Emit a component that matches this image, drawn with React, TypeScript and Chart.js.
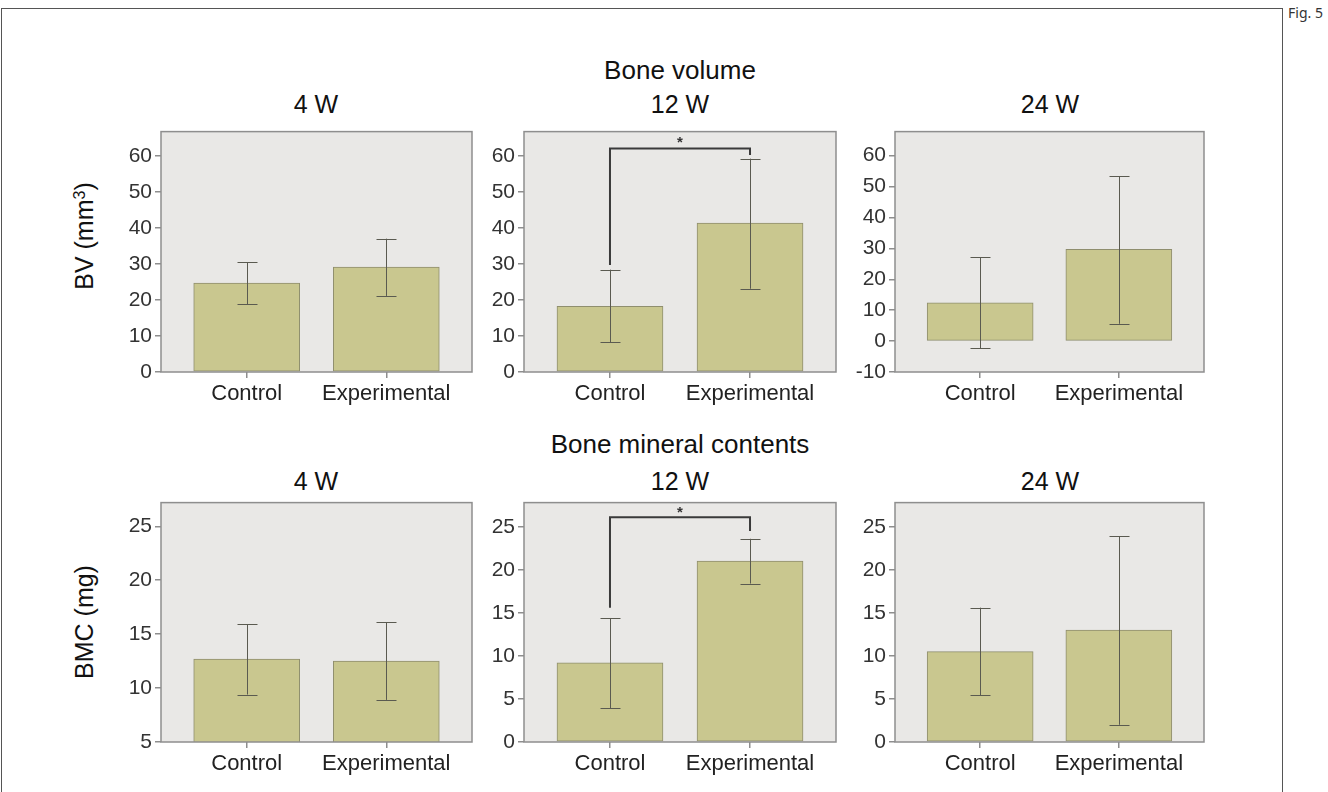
import React, { useEffect, useRef } from "react";
import { Chart, registerables } from "chart.js";

Chart.register(...registerables);

// ---------------- data ----------------
const categories = ["Control", "Experimental"];

const bv4WMean = [24.7, 29.1];
const bv4WLow = [18.8, 21.1];
const bv4WHigh = [30.4, 37.0];

const bv12WMean = [18.2, 41.3];
const bv12WLow = [8.3, 23.1];
const bv12WHigh = [28.4, 59.2];

const bv24WMean = [12.4, 29.7];
const bv24WLow = [-2.3, 5.6];
const bv24WHigh = [27.2, 53.4];

const bmc4WMean = [12.7, 12.5];
const bmc4WLow = [9.4, 8.9];
const bmc4WHigh = [15.9, 16.1];

const bmc12WMean = [9.2, 21.0];
const bmc12WLow = [3.9, 18.4];
const bmc12WHigh = [14.4, 23.6];

const bmc24WMean = [10.5, 13.0];
const bmc24WLow = [5.4, 2.0];
const bmc24WHigh = [15.6, 23.9];

const bvTicks = [0, 10, 20, 30, 40, 50, 60];
const bvTicks24W = [-10, 0, 10, 20, 30, 40, 50, 60];
const bmcTicks4W = [5, 10, 15, 20, 25];
const bmcTicks = [0, 5, 10, 15, 20, 25];

// significance bracket: [bar height, left end, right end, star level]
const bvBracket12W = [62.0, 29.7, 60.2, 64.3];
const bmcBracket12W = [26.1, 15.6, 24.5, 26.9];

const FONT = "'Liberation Sans', Arial, Helvetica, sans-serif";

// -------------- layout ----------------
const YW = 60;
const PT = 12;
const PR = 12;
const XH = 50;

type PanelProps = {
  left: number;
  top: number;
  w: number;
  h: number;
  mean: number[];
  low: number[];
  high: number[];
  ticks: number[];
  min: number;
  max: number;
  bracket?: number[];
};

function Panel(p: PanelProps) {
  const ref = useRef<HTMLCanvasElement | null>(null);
  useEffect(() => {
    if (!ref.current) return;
    const panelPlugin = {
      id: "panelDeco",
      beforeDraw(chart: any) {
        const { ctx, chartArea: a } = chart;
        ctx.save();
        ctx.fillStyle = "#e9e8e6";
        ctx.fillRect(a.left, a.top, a.right - a.left, a.bottom - a.top);
        ctx.restore();
      },
      afterDatasetsDraw(chart: any) {
        const { ctx, chartArea: a } = chart;
        const xs = chart.scales.x;
        const ys = chart.scales.y;
        ctx.save();
        // error bars
        ctx.strokeStyle = "#5a5a50";
        ctx.lineWidth = 1;
        categories.forEach((_, i) => {
          const x = Math.round(xs.getPixelForValue(i)) + 0.5;
          const yl = ys.getPixelForValue(p.low[i]);
          const yh = ys.getPixelForValue(p.high[i]);
          ctx.beginPath();
          ctx.moveTo(x, yl);
          ctx.lineTo(x, yh);
          ctx.moveTo(x - 10, Math.round(yh) + 0.5);
          ctx.lineTo(x + 10, Math.round(yh) + 0.5);
          ctx.moveTo(x - 10, Math.round(yl) + 0.5);
          ctx.lineTo(x + 10, Math.round(yl) + 0.5);
          ctx.stroke();
        });
        // bracket
        if (p.bracket) {
          const [top, le, re, star] = p.bracket;
          const x0 = xs.getPixelForValue(0);
          const x1 = xs.getPixelForValue(1);
          const yt = ys.getPixelForValue(top);
          ctx.strokeStyle = "#3a3a3a";
          ctx.lineWidth = 2;
          ctx.beginPath();
          ctx.moveTo(x0, ys.getPixelForValue(le));
          ctx.lineTo(x0, yt);
          ctx.lineTo(x1, yt);
          ctx.lineTo(x1, ys.getPixelForValue(re));
          ctx.stroke();
          ctx.fillStyle = "#333";
          ctx.font = `bold 15px ${FONT}`;
          ctx.textAlign = "center";
          ctx.textBaseline = "middle";
          ctx.fillText("*", (x0 + x1) / 2, ys.getPixelForValue(star) + 3);
        }
        // plot box
        ctx.strokeStyle = "#8e8e8e";
        ctx.lineWidth = 1.5;
        ctx.strokeRect(a.left, a.top, a.right - a.left, a.bottom - a.top);
        ctx.restore();
      },
    };

    const chart = new Chart(ref.current, {
      type: "bar",
      data: {
        datasets: [
          {
            data: categories.map((_, i) => ({ x: i, y: p.mean[i] })),
            backgroundColor: "#c9c78f",
            borderColor: "#8f8e6e",
            borderWidth: 1,
            borderSkipped: false,
            barThickness: 106,
          } as any,
        ],
      },
      options: {
        animation: false,
        responsive: false,
        maintainAspectRatio: false,
        devicePixelRatio: 1,
        layout: { padding: { top: PT, right: PR, left: 0, bottom: 0 } },
        plugins: {
          legend: { display: false },
          tooltip: { enabled: false },
          title: { display: false },
        },
        scales: {
          x: {
            type: "linear",
            min: -0.614,
            max: 1.614,
            offset: false,
            afterBuildTicks: (s: any) => {
              s.ticks = categories.map((_, i) => ({ value: i }));
            },
            afterFit: (s: any) => {
              s.height = XH;
            },
            ticks: {
              callback: (v: any) => categories[Math.round(Number(v))] ?? "",
              font: { family: FONT, size: 22 },
              color: "#222",
              padding: 3,
              maxRotation: 0,
              autoSkip: false,
            },
            grid: {
              display: true,
              offset: false,
              drawOnChartArea: false,
              drawTicks: true,
              tickLength: 6,
              color: "#8e8e8e",
              lineWidth: 1.5,
            },
            border: { display: false },
          } as any,
          y: {
            type: "linear",
            min: p.min,
            max: p.max,
            afterBuildTicks: (s: any) => {
              s.ticks = p.ticks.map((v) => ({ value: v }));
            },
            afterFit: (s: any) => {
              s.width = YW;
            },
            ticks: {
              callback: (v: any) => String(v),
              font: { family: FONT, size: 21 },
              color: "#333",
              padding: 3,
            },
            grid: {
              display: true,
              offset: false,
              drawOnChartArea: false,
              drawTicks: true,
              tickLength: 6,
              color: "#8e8e8e",
              lineWidth: 1.5,
            },
            border: { display: false },
          } as any,
        },
      },
      plugins: [panelPlugin],
    });
    return () => chart.destroy();
  }, []);

  const cw = p.w + YW + PR;
  const ch = p.h + PT + XH;
  return (
    <canvas
      ref={ref}
      width={cw}
      height={ch}
      style={{
        position: "absolute",
        left: p.left - YW,
        top: p.top - PT,
        width: cw,
        height: ch,
      }}
    />
  );
}

type Label = { text: string; x: number; y: number; size: number };

const titleLabels: Label[] = [
  { text: "Bone volume", x: 680, y: 70, size: 26 },
  { text: "4 W", x: 316, y: 104, size: 25 },
  { text: "12 W", x: 680, y: 104, size: 25 },
  { text: "24 W", x: 1050, y: 104, size: 25 },
  { text: "Bone mineral contents", x: 680, y: 444, size: 26 },
  { text: "4 W", x: 316, y: 481, size: 25 },
  { text: "12 W", x: 680, y: 481, size: 25 },
  { text: "24 W", x: 1050, y: 481, size: 25 },
];

function Text({ l }: { l: Label }) {
  return (
    <div
      style={{
        position: "absolute",
        left: l.x,
        top: l.y,
        transform: "translate(-50%, -50%)",
        fontFamily: FONT,
        fontSize: l.size,
        lineHeight: 1,
        color: "#111",
        whiteSpace: "nowrap",
      }}
    >
      {l.text}
    </div>
  );
}

function AxisTitle({ x, y, children }: { x: number; y: number; children: React.ReactNode }) {
  return (
    <div
      style={{
        position: "absolute",
        left: x,
        top: y,
        transform: "translate(-50%, -50%) rotate(-90deg)",
        fontFamily: FONT,
        fontSize: 25,
        lineHeight: 1,
        color: "#111",
        whiteSpace: "nowrap",
      }}
    >
      {children}
    </div>
  );
}

export default function App() {
  return (
    <div
      style={{
        position: "absolute",
        left: 0,
        top: 0,
        width: 1328,
        height: 792,
        overflow: "hidden",
        background: "#fff",
      }}
    >
      <div
        style={{
          position: "absolute",
          left: 1,
          top: 8,
          width: 1282,
          height: 900,
          border: "1.5px solid #555",
          boxSizing: "border-box",
        }}
      />
      <div
        style={{
          position: "absolute",
          left: 1288,
          top: 5,
          fontFamily: "'Noto Sans', 'Open Sans', sans-serif",
          fontSize: 14,
          lineHeight: 1.2,
          color: "#333",
        }}
      >
        Fig. 5
      </div>

      {titleLabels.map((l, i) => (
        <Text key={i} l={l} />
      ))}

      <AxisTitle x={84} y={236}>
        BV (mm<sup style={{ fontSize: 16, verticalAlign: "8px" }}>3</sup>)
      </AxisTitle>
      <AxisTitle x={84} y={622}>
        BMC (mg)
      </AxisTitle>

      <Panel left={161} top={128} w={311} h={244} mean={bv4WMean} low={bv4WLow} high={bv4WHigh} ticks={bvTicks} min={0} max={66.7} />
      <Panel left={524} top={128} w={312} h={244} mean={bv12WMean} low={bv12WLow} high={bv12WHigh} ticks={bvTicks} min={0} max={66.7} bracket={bvBracket12W} />
      <Panel left={895} top={128} w={309} h={244} mean={bv24WMean} low={bv24WLow} high={bv24WHigh} ticks={bvTicks24W} min={-10} max={67.8} />

      <Panel left={161} top={499} w={311} h={243} mean={bmc4WMean} low={bmc4WLow} high={bmc4WHigh} ticks={bmcTicks4W} min={5} max={27.2} />
      <Panel left={524} top={499} w={312} h={243} mean={bmc12WMean} low={bmc12WLow} high={bmc12WHigh} ticks={bmcTicks} min={0} max={27.8} bracket={bmcBracket12W} />
      <Panel left={895} top={499} w={309} h={243} mean={bmc24WMean} low={bmc24WLow} high={bmc24WHigh} ticks={bmcTicks} min={0} max={27.8} />
    </div>
  );
}
